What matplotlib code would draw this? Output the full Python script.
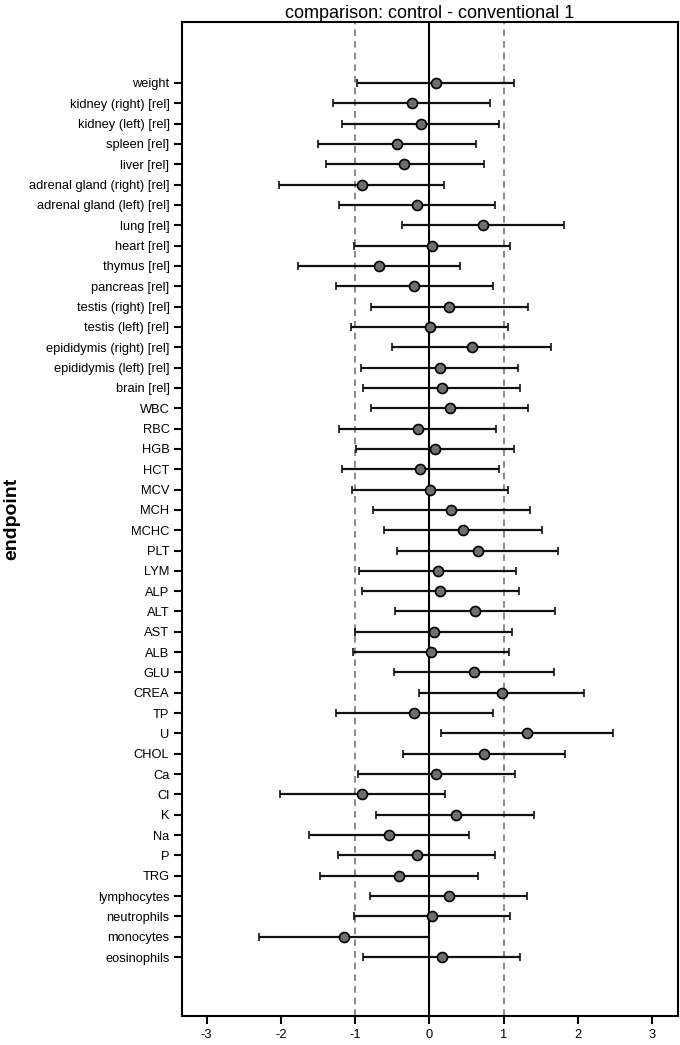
"""Forest plot of standardized differences: control vs conventional 1."""

import matplotlib
matplotlib.use("Agg")
import matplotlib.pyplot as plt
import numpy as np

plt.rcParams["font.family"] = ["Liberation Sans", "DejaVu Sans"]

endpoints = [
    "weight", "kidney (right) [rel]", "kidney (left) [rel]", "spleen [rel]",
    "liver [rel]", "adrenal gland (right) [rel]", "adrenal gland (left) [rel]",
    "lung [rel]", "heart [rel]", "thymus [rel]", "pancreas [rel]",
    "testis (right) [rel]", "testis (left) [rel]", "epididymis (right) [rel]",
    "epididymis (left) [rel]", "brain [rel]", "WBC", "RBC", "HGB", "HCT",
    "MCV", "MCH", "MCHC", "PLT", "LYM", "ALP", "ALT", "AST", "ALB", "GLU",
    "CREA", "TP", "U", "CHOL", "Ca", "Cl", "K", "Na", "P", "TRG",
    "lymphocytes", "neutrophils", "monocytes", "eosinophils",
]

estimate = [
    0.085, -0.238, -0.117, -0.435, -0.336, -0.910, -0.161, 0.726, 0.040,
    -0.682, -0.202, 0.269, 0.004, 0.574, 0.139, 0.166, 0.278, -0.152,
    0.081, -0.121, 0.013, 0.291, 0.457, 0.650, 0.112, 0.148, 0.614,
    0.063, 0.022, 0.605, 0.978, -0.206, 1.314, 0.735, 0.094, -0.901,
    0.354, -0.543, -0.170, -0.404, 0.260, 0.040, -1.152, 0.166,
]

lower = [
    -0.973, -1.291, -1.170, -1.502, -1.395, -2.018, -1.220, -0.363, -1.013,
    -1.762, -1.260, -0.789, -1.049, -0.502, -0.915, -0.888, -0.780, -1.215,
    -0.982, -1.179, -1.040, -0.762, -0.610, -0.430, -0.946, -0.906, -0.466,
    -0.996, -1.027, -0.471, -0.139, -1.260, 0.152, -0.354, -0.960, -2.009,
    -0.713, -1.619, -1.229, -1.475, -0.798, -1.018, -2.291, -0.888,
]

upper = [
    1.143, 0.821, 0.937, 0.632, 0.731, 0.193, 0.892, 1.812, 1.090,
    0.408, 0.861, 1.332, 1.063, 1.646, 1.197, 1.224, 1.336, 0.901,
    1.135, 0.933, 1.067, 1.354, 1.525, 1.740, 1.166, 1.206, 1.695,
    1.117, 1.076, 1.682, 2.090, 0.857, 2.480, 1.825, 1.152, 0.206,
    1.417, 0.534, 0.888, 0.659, 1.323, 1.094, -0.009, 1.224,
]

x_ticks = [-3, -2, -1, 0, 1, 2, 3]


def make_plot(ax):
    """Draw the forest plot."""
    est = np.array(estimate)
    lo = np.array(lower)
    hi = np.array(upper)
    ypos = np.arange(len(endpoints))[::-1]

    ax.axvline(0, color="black", lw=1.5, zorder=1)
    for xv in (-1, 1):
        ax.axvline(xv, color="#777777", lw=1.2, ls=(0, (4, 3)), zorder=1)

    ax.errorbar(est, ypos, xerr=[est - lo, hi - est], fmt="o",
                color="black", ecolor="#111111", elinewidth=1.6,
                capsize=3, capthick=1.6, markersize=7.2,
                markerfacecolor="#6e6e6e", markeredgecolor="black",
                markeredgewidth=1.2, zorder=3)

    ax.set_yticks(ypos)
    ax.set_yticklabels(endpoints)
    ax.set_xticks(x_ticks)
    ax.set_xticklabels([str(t) for t in x_ticks])
    ax.set_xlim(-3.33, 3.35)
    ax.set_ylim(-2.9, 46.0)

    for sp in ax.spines.values():
        sp.set_linewidth(1.5)
    ax.tick_params(axis="both", length=6, width=1.5, labelsize=9.3,
                   direction="out", pad=3)

    ax.set_title("comparison: control - conventional 1", fontsize=13, pad=3)
    ax.set_ylabel("endpoint", fontsize=14, fontweight="bold")
    ax.yaxis.set_label_coords(-0.327, 0.5)


if __name__ == "__main__":
    fig = plt.figure(figsize=(6.8, 10.45), dpi=100)
    ax = fig.add_axes([182 / 680, 1 - 1016 / 1045, 496 / 680, 994 / 1045])
    make_plot(ax)
    fig.savefig("out.png", dpi=100)
